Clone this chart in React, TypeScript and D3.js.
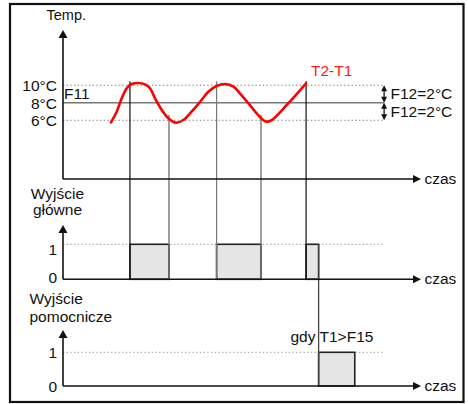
import * as d3 from 'd3';

// temperature difference T2-T1
const curveTime = [13.4, 15.0, 16.4, 17.8, 19.2, 21.0, 22.9, 24.3, 25.7, 27.6, 29.4, 31.6, 33.6, 35.9, 38.3, 40.6, 42.9, 45.3, 47.6, 49.4, 51.8, 54.1, 55.9, 56.9, 58.3, 62.5, 67.9];
const curveTemp = [5.76, 6.97, 8.5, 9.65, 10.14, 10.25, 10.1, 9.65, 8.5, 7.17, 6.22, 5.71, 6.02, 6.97, 8.11, 9.26, 9.91, 10.14, 9.83, 9.07, 7.93, 6.79, 6.02, 5.83, 6.02, 7.74, 10.22];

const tempLevels = [10, 8, 6];
const tempLabels = ['10°C', '8°C', '6°C'];
const hystLabels = ['F12=2°C', 'F12=2°C'];

// switching moments
const mainOn = [18.7, 42.9, 67.9];
const mainOff = [29.6, 55.3, 71.4];
const auxOn = [71.4];
const auxOff = [81.5];

const levelTicks = [1, 0];
const levelLabels = ['1', '0'];

const FONT = '"Liberation Sans", Arial, sans-serif';

export default function App() {
  const W = 468;
  const H = 404;
  const axisX = 63;
  const topAxisY = 179;

  const xTime = d3.scaleLinear().domain([0, 100]).range([axisX, 421]);
  const yTemp = d3.scaleLinear().domain([6, 10]).range([120.2, 85.2]);
  const yMain = d3.scaleLinear().domain([0, 1]).range([279.3, 244.3]);
  const yAux = d3.scaleLinear().domain([0, 1]).range([386, 352.3]);

  const refEnd = xTime(89.7);

  const line = d3.line<number>()
    .x((_, i) => xTime(curveTime[i]))
    .y((d) => yTemp(d))
    .curve(d3.curveCatmullRom.alpha(0.5));

  const upArrow = (x: number, top: number) => `M${x},${top}L${x - 4.5},${top + 8}L${x + 4.5},${top + 8}Z`;
  const rightArrow = (x: number, y: number) => `M${x},${y}L${x - 8},${y - 4}L${x - 8},${y + 4}Z`;

  const axes = [
    { y0: topAxisY, top: 30 },
    { y0: yMain(0), top: 225 },
    { y0: yAux(0), top: 330 },
  ];

  const txt = { fontFamily: FONT, fontSize: 15.5, fill: '#111' } as const;

  const dblArrow = (x: number, y1: number, y2: number) => (
    <g>
      <line x1={x} x2={x} y1={y1 + 2} y2={y2 - 2} stroke="#111" strokeWidth={1.3} />
      <path d={`M${x},${y1}L${x - 3},${y1 + 6}L${x + 3},${y1 + 6}Z`} fill="#111" />
      <path d={`M${x},${y2}L${x - 3},${y2 - 6}L${x + 3},${y2 - 6}Z`} fill="#111" />
    </g>
  );

  return (
    <svg width={W} height={H} style={{ position: 'absolute', left: 0, top: 0, background: '#fff' }}>
      <rect x={10} y={4} width={453.5} height={398} fill="#fff" stroke="#111" strokeWidth={2.2} />

      {/* threshold lines */}
      {tempLevels.map((t) => (
        <line key={t} x1={axisX} x2={refEnd} y1={yTemp(t)} y2={yTemp(t)}
          stroke={t === 8 ? '#777' : '#777'} strokeWidth={t === 8 ? 1.6 : 1.1}
          strokeDasharray={t === 8 ? undefined : '1.3,2.4'} />
      ))}
      {tempLabels.map((l, i) => (
        <text key={l} x={57} y={yTemp(tempLevels[i]) + 5.8} textAnchor="end" {...txt}>{l}</text>
      ))}
      <text x={64} y={99} {...txt}>F11</text>
      {dblArrow(refEnd, yTemp(10), yTemp(8))}
      {dblArrow(refEnd, yTemp(8), yTemp(6))}
      {hystLabels.map((l, i) => (
        <text key={i} x={390.5} y={99 + i * 18} {...txt}>{l}</text>
      ))}

      {/* level 1 lines */}
      <line x1={axisX} x2={refEnd} y1={yMain(1)} y2={yMain(1)} stroke="#aaa" strokeWidth={1.2} strokeDasharray="1.3,2.4" />
      <line x1={axisX} x2={refEnd} y1={yAux(1)} y2={yAux(1)} stroke="#aaa" strokeWidth={1.2} strokeDasharray="1.3,2.4" />

      {/* pulses */}
      {mainOn.map((t, i) => (
        <rect key={i} x={xTime(t)} y={yMain(1)} width={xTime(mainOff[i]) - xTime(t)} height={yMain(0) - yMain(1)}
          fill="#e5e5e5" stroke="#222" strokeWidth={1.6} />
      ))}
      {auxOn.map((t, i) => (
        <rect key={i} x={xTime(t)} y={yAux(1)} width={xTime(auxOff[i]) - xTime(t)} height={yAux(0) - yAux(1)}
          fill="#e5e5e5" stroke="#222" strokeWidth={1.6} />
      ))}

      {/* guide lines */}
      {mainOn.map((t, i) => (
        <line key={'on' + i} x1={xTime(t)} x2={xTime(t)} y1={yTemp(10.45)} y2={yMain(0)}
          stroke={i === 1 ? '#777' : '#111'} strokeWidth={1.2} />
      ))}
      {mainOff.slice(0, -1).map((t, i) => (
        <line key={'off' + i} x1={xTime(t)} x2={xTime(t)} y1={yTemp(6.6)} y2={yMain(0)}
          stroke="#777" strokeWidth={1.4} />
      ))}
      <line x1={xTime(mainOff[2])} x2={xTime(mainOff[2])} y1={yMain(1)} y2={yAux(0)} stroke="#444" strokeWidth={1.3} />

      {/* axes */}
      {axes.map((a, i) => (
        <g key={i}>
          <line x1={axisX} x2={axisX} y1={a.y0} y2={a.top + 6} stroke="#111" strokeWidth={1.6} />
          <path d={upArrow(axisX, a.top)} fill="#111" />
          <line x1={axisX} x2={415} y1={a.y0} y2={a.y0} stroke="#111" strokeWidth={1.6} />
          <path d={rightArrow(421, a.y0)} fill="#111" />
          <text x={424.5} y={a.y0 + 4.5} {...txt}>czas</text>
        </g>
      ))}

      {levelTicks.map((v, i) => (
        <text key={'m' + v} x={57} y={v === 1 ? yMain(v) + 10.5 : yMain(v) + 4} textAnchor="end" {...txt}>{levelLabels[i]}</text>
      ))}
      {levelTicks.map((v, i) => (
        <text key={'a' + v} x={57} y={yAux(v) + 6} textAnchor="end" {...txt}>{levelLabels[i]}</text>
      ))}

      {/* curve */}
      <path d={line(curveTemp) ?? ''} fill="none" stroke="#ff0000" strokeWidth={2.6} strokeLinecap="round" />
      <text x={311} y={76} {...txt} fill="#ff1a1a">T2-T1</text>

      <text x={46.5} y={20} {...txt} fontSize={14.5}>Temp.</text>
      <text x={57.5} y={199} textAnchor="middle" {...txt}>Wyjście</text>
      <text x={57.5} y={215} textAnchor="middle" {...txt}>główne</text>
      <text x={29.5} y={304} {...txt}>Wyjście</text>
      <text x={29.5} y={322} {...txt}>pomocnicze</text>
      <text x={290.5} y={341.5} {...txt}>gdy T1&gt;F15</text>
    </svg>
  );
}
